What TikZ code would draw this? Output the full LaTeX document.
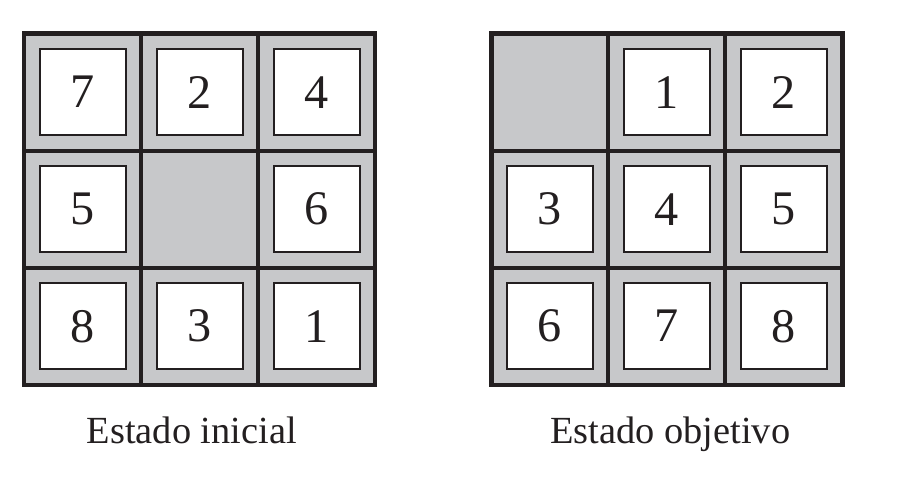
\documentclass[tikz,border=0pt]{standalone}
\usepackage{fontspec}
\setmainfont{Liberation Serif}
\definecolor{boardgray}{RGB}{199,200,202}
\definecolor{inkdark}{RGB}{35,31,32}
\tikzset{
    tile/.style={draw=inkdark, fill=white, line width=0.75pt, minimum size=1.1cm, inner sep=0pt,
        text=inkdark, font=\fontsize{17.6}{20}\selectfont},
    board/.style={draw=inkdark, fill=boardgray, line width=1.6pt},
    divider/.style={draw=inkdark, line width=1.5pt},
    caption/.style={anchor=base, text=inkdark, inner sep=0pt, font=\fontsize{14}{17}\selectfont}
}
\begin{document}
\begin{tikzpicture}[scale=1]
    \useasboundingbox (0, 0) rectangle (11.564, 6.192);
    % estado inicial
    \draw[board] (0.31, 1.26) rectangle (4.81, 5.76);
    \draw[divider] (1.81, 1.26) -- (1.81, 5.76);
    \draw[divider] (3.31, 1.26) -- (3.31, 5.76);
    \draw[divider] (0.31, 2.76) -- (4.81, 2.76);
    \draw[divider] (0.31, 4.26) -- (4.81, 4.26);
    \node[tile] (s7) at (1.06, 5.01) {7};
    \node[tile] (s2) at (2.56, 5.01) {2};
    \node[tile] (s4) at (4.06, 5.01) {4};
    \node[tile] (s5) at (1.06, 3.51) {5};
    \node[tile] (s6) at (4.06, 3.51) {6};
    \node[tile] (s8) at (1.06, 2.01) {8};
    \node[tile] (s3) at (2.56, 2.01) {3};
    \node[tile] (s1) at (4.06, 2.01) {1};
    \node[caption] (inicial) at (2.458, 0.5) {Estado inicial};
    % estado objetivo
    \draw[board] (6.30, 1.26) rectangle (10.80, 5.76);
    \draw[divider] (7.80, 1.26) -- (7.80, 5.76);
    \draw[divider] (9.30, 1.26) -- (9.30, 5.76);
    \draw[divider] (6.30, 2.76) -- (10.80, 2.76);
    \draw[divider] (6.30, 4.26) -- (10.80, 4.26);
    \node[tile] (g1) at (8.55, 5.01) {1};
    \node[tile] (g2) at (10.05, 5.01) {2};
    \node[tile] (g3) at (7.05, 3.51) {3};
    \node[tile] (g4) at (8.55, 3.51) {4};
    \node[tile] (g5) at (10.05, 3.51) {5};
    \node[tile] (g6) at (7.05, 2.01) {6};
    \node[tile] (g7) at (8.55, 2.01) {7};
    \node[tile] (g8) at (10.05, 2.01) {8};
    \node[caption] (objetivo) at (8.594, 0.5) {Estado objetivo};
\end{tikzpicture}
\end{document}
